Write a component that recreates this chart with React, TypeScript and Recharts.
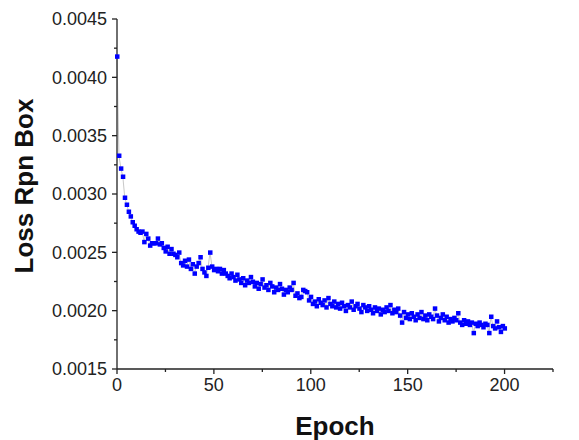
import React from 'react';
import { LineChart, Line, XAxis, YAxis } from 'recharts';

// loss per epoch
const lossRpnBox: number[] = [
  0.00418, 0.00333, 0.00322, 0.00315, 0.00297, 0.00291, 0.00285, 0.00281, 0.00276, 0.00273,
  0.00270, 0.00268, 0.00267, 0.00268, 0.00259, 0.00266, 0.00262, 0.00256, 0.00258, 0.00258,
  0.00258, 0.00262, 0.00257, 0.00258, 0.00254, 0.00251, 0.00255, 0.00249, 0.00253, 0.00249,
  0.00248, 0.00246, 0.00250, 0.00241, 0.00239, 0.00243, 0.00238, 0.00244, 0.00236, 0.00240,
  0.00232, 0.00238, 0.00241, 0.00246, 0.00236, 0.00233, 0.00230, 0.00237, 0.00250, 0.00238,
  0.00235, 0.00236, 0.00234, 0.00236, 0.00232, 0.00235, 0.00232, 0.00230, 0.00228, 0.00232,
  0.00229, 0.00226, 0.00231, 0.00227, 0.00224, 0.00228, 0.00222, 0.00226, 0.00224, 0.00229,
  0.00225, 0.00221, 0.00224, 0.00219, 0.00223, 0.00227, 0.00220, 0.00222, 0.00218, 0.00224,
  0.00221, 0.00216, 0.00220, 0.00218, 0.00223, 0.00219, 0.00214, 0.00218, 0.00216, 0.00220,
  0.00218, 0.00224, 0.00213, 0.00215, 0.00211, 0.00212, 0.00218, 0.00217, 0.00216, 0.00209,
  0.00212, 0.00206, 0.00208, 0.00204, 0.00210, 0.00207, 0.00205, 0.00209, 0.00203, 0.00211,
  0.00206, 0.00204, 0.00208, 0.00203, 0.00206, 0.00202, 0.00207, 0.00204, 0.00200, 0.00205,
  0.00203, 0.00208, 0.00201, 0.00204, 0.00206, 0.00202, 0.00199, 0.00205, 0.00203, 0.00200,
  0.00204, 0.00201, 0.00198, 0.00203, 0.00200, 0.00202, 0.00197, 0.00201, 0.00199, 0.00203,
  0.00200, 0.00205, 0.00198, 0.00201, 0.00199, 0.00202, 0.00196, 0.00190, 0.00199, 0.00194,
  0.00197, 0.00193, 0.00198, 0.00195, 0.00192, 0.00197, 0.00194, 0.00199, 0.00193, 0.00196,
  0.00192, 0.00197, 0.00195, 0.00193, 0.00202, 0.00196, 0.00191, 0.00194, 0.00197, 0.00192,
  0.00195, 0.00190, 0.00193, 0.00191, 0.00194, 0.00192, 0.00198, 0.00190, 0.00188, 0.00192,
  0.00189, 0.00191, 0.00188, 0.00190, 0.00181, 0.00189, 0.00187, 0.00190, 0.00188, 0.00186,
  0.00189, 0.00188, 0.00181, 0.00195, 0.00187, 0.00185, 0.00191, 0.00186, 0.00182, 0.00187,
  0.00185,
];

const xTicks = [0, 25, 50, 75, 100, 125, 150, 175, 200, 225];
const xLabeled = [0, 50, 100, 150, 200];
const yTicks = [0.0015, 0.00175, 0.002, 0.00225, 0.0025, 0.00275, 0.003, 0.00325, 0.0035, 0.00375, 0.004, 0.00425, 0.0045];
const yLabeled = [0.0015, 0.002, 0.0025, 0.003, 0.0035, 0.004, 0.0045];

const data = lossRpnBox.map((v, i) => ({ epoch: i, loss: v }));

const FONT = 'Liberation Sans, Arial, sans-serif';

const YTick = (props: any) => {
  const { x, y, payload } = props;
  const major = yLabeled.some(t => Math.abs(t - payload.value) < 1e-9);
  return (
    <g>
      <line x1={x} x2={x - (major ? 5 : 3)} y1={y} y2={y} stroke="#222" strokeWidth={1.3} />
      {major && (
        <text x={x - 10} y={y} dy="0.35em" textAnchor="end" fontSize={18} fontFamily={FONT} fill="#222">
          {payload.value.toFixed(4)}
        </text>
      )}
    </g>
  );
};

const XTick = (props: any) => {
  const { x, y, payload } = props;
  const major = xLabeled.includes(payload.value);
  return (
    <g>
      <line x1={x} x2={x} y1={y} y2={y + (major ? 5 : 3)} stroke="#222" strokeWidth={1.3} />
      {major && (
        <text x={x} y={y + 9} dy="0.71em" textAnchor="middle" fontSize={18} fontFamily={FONT} fill="#222">
          {payload.value}
        </text>
      )}
    </g>
  );
};

const SquareDot = (props: any) => {
  const { cx, cy, index } = props;
  return <rect key={`d${index}`} x={cx - 2} y={cy - 2} width={4.5} height={4.5} fill="#0000ff" />;
};

const App: React.FC = () => {
  return (
    <div style={{ position: 'fixed', left: 0, top: 0, background: '#fff' }}>
      <LineChart width={579} height={440} data={data} margin={{ top: 19, right: 26, bottom: 0, left: 0 }}>
        <XAxis
          dataKey="epoch"
          type="number"
          domain={[0, 225]}
          ticks={xTicks}
          interval={0}
          height={71}
          tick={<XTick />}
          tickLine={false}
          tickSize={0}
          tickMargin={0}
          axisLine={{ stroke: '#222', strokeWidth: 1.3 }}
          label={{ value: 'Epoch', position: 'insideBottom', offset: 5, fontSize: 26, fontWeight: 'bold', fontFamily: FONT, fill: '#111' }}
        />
        <YAxis
          type="number"
          domain={[0.0015, 0.0045]}
          ticks={yTicks}
          interval={0}
          width={117}
          tick={<YTick />}
          tickLine={false}
          tickSize={0}
          tickMargin={0}
          axisLine={{ stroke: '#222', strokeWidth: 1.3 }}
          label={{ value: 'Loss Rpn Box', angle: -90, position: 'insideLeft', offset: 24, dy: -8, fontSize: 26, fontWeight: 'bold', fontFamily: FONT, fill: '#111', style: { textAnchor: 'middle' } }}
        />
        <Line
          type="linear"
          dataKey="loss"
          stroke="#c8c8c8"
          strokeWidth={1}
          dot={SquareDot}
          activeDot={false}
          isAnimationActive={false}
        />
      </LineChart>
    </div>
  );
};

export default App;
